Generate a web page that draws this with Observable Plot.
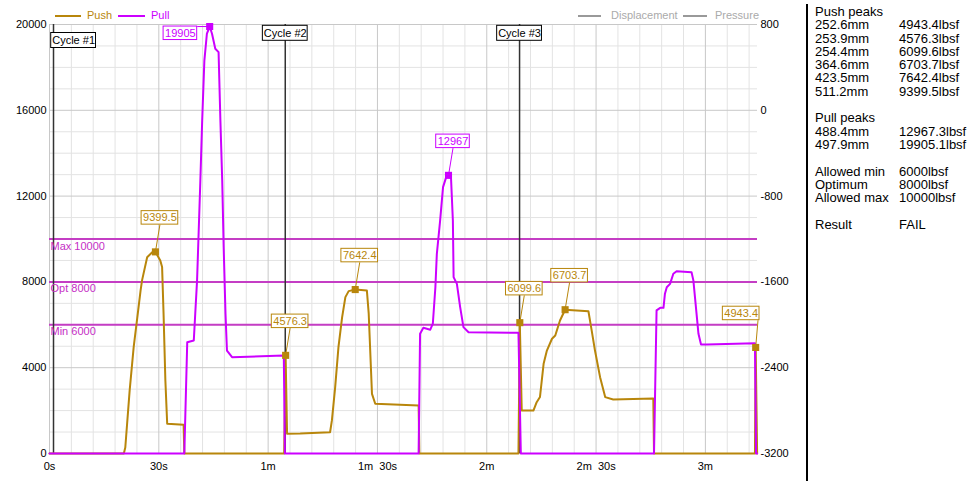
<!DOCTYPE html>
<html><head><meta charset="utf-8">
<script src="https://cdn.jsdelivr.net/npm/d3@7"></script>
<script src="https://cdn.jsdelivr.net/npm/@observablehq/plot@0.6"></script>
<style>
body{margin:0;background:#fff;font-family:'Liberation Sans',Arial,sans-serif;}
#wrap{position:relative;width:974px;height:485px;overflow:hidden;background:#fff;}
#legend{position:absolute;left:0;top:0;width:800px;height:24px;z-index:2;}
#chart{position:absolute;left:0;top:18px;z-index:1;}
#chart svg text{white-space:pre;}
.lg{position:absolute;top:9px;font-size:11px;line-height:13px;white-space:nowrap;}
.sw{position:absolute;top:15px;height:2px;}
#panel{position:absolute;left:815px;top:5px;font-size:13px;color:#000;}
.row{height:13.3px;line-height:13.3px;white-space:nowrap;position:relative;width:150px;}
.c2{position:absolute;left:84px;top:0;}
#sep{position:absolute;left:806px;top:4px;width:2px;height:477px;background:#000;}
</style></head><body>
<div id="wrap">
  <div id="chart"></div>
  <div id="legend"></div>
  <div id="sep"></div>
  <div id="panel"></div>
</div>
<script>
// ---------- data ----------
const seriesNames = ["Push", "Pull"];
const hiddenSeries = ["Displacement", "Pressure"];

const pushT = [0, 20.4, 20.8, 22.0, 23.1, 24.1, 25.0, 25.4, 26.8, 28.2, 29.07, 30.4, 30.9, 31.3, 31.8, 32.3, 36.8, 37.0, 64.4, 64.8, 65.2, 68.8, 77.0, 77.5, 78.4, 79.3, 80.3, 81.2, 82.1, 83.9, 87.1, 87.6, 88.5, 89.4, 101.3, 101.5, 128.7, 129.07, 129.6, 132.8, 133.7, 134.6, 135.6, 136.5, 137.9, 138.8, 140.1, 141.5, 147.9, 148.8, 149.7, 151.1, 152.5, 154.7, 165.7, 165.9, 193.6, 193.8, 194.2];
const pushV = [0, 0, 280, 2940, 4960, 6350, 7600, 8070, 9150, 9385, 9399.5, 9000, 8690, 6530, 3400, 1390, 1340, 0, 0, 4576.3, 920, 930, 990, 1540, 3090, 4960, 6350, 7290, 7570, 7642.4, 7600, 6530, 2780, 2320, 2240, 0, 0, 6099.6, 2000, 2000, 2390, 2630, 4180, 4800, 5350, 5500, 6200, 6703.7, 6630, 5730, 4800, 3560, 2630, 2520, 2560, 0, 0, 4943.4, 0];

const pullT = [0, 37.0, 37.8, 39.6, 40.0, 40.5, 41.4, 41.9, 42.5, 43.2, 43.96, 44.6, 45.5, 46.4, 46.9, 47.4, 47.8, 48.3, 48.7, 50.1, 64.3, 64.6, 101.3, 101.7, 102.6, 104.5, 105.2, 105.9, 106.3, 107.2, 108.0, 108.8, 109.5, 110.2, 110.7, 110.9, 111.8, 112.7, 113.6, 115.0, 128.7, 129.35, 165.9, 166.6, 167.6, 168.5, 168.9, 169.4, 170.3, 171.2, 172.1, 176.2, 176.7, 178.1, 178.8, 180.4, 193.6, 193.9, 194.2];
const pullV = [0, 0, 5190, 5270, 6530, 8070, 12730, 15520, 18320, 19580, 19905.1, 19570, 18870, 18710, 15520, 12730, 9620, 6510, 4800, 4490, 4570, 0, 0, 5580, 5860, 5770, 6050, 7750, 9310, 10860, 12420, 12850, 12967.3, 12810, 10860, 8220, 7910, 6820, 5890, 5650, 5630, 0, 0, 6670, 6790, 6790, 7450, 7750, 7910, 8380, 8500, 8450, 8070, 5580, 5080, 5080, 5140, 0, 0];

const pushPeakMm = [252.6, 253.9, 254.4, 364.6, 423.5, 511.2];
const pushPeakLbsf = [4943.4, 4576.3, 6099.6, 6703.7, 7642.4, 9399.5];
const pullPeakMm = [488.4, 497.9];
const pullPeakLbsf = [12967.3, 19905.1];

const thresholdNames = ["Min", "Opt", "Max"];
const thresholdValues = [6000, 8000, 10000];
const limitLabels = ["Allowed min", "Optimum", "Allowed max"];
const resultText = "FAIL";

const cycleNames = ["Cycle #1", "Cycle #2", "Cycle #3"];
const cycleT = [1.1, 64.7, 129.0];

const xDomain = [0, 194.3];
const xTickValues = [0, 30, 60, 90, 120, 150, 180];
const xTickLabels = ["0s", "30s", "1m", "1m  30s", "2m", "2m  30s", "3m"];
const yDomain = [0, 20000];
const yTickValues = [0, 4000, 8000, 12000, 16000, 20000];
const rightTickLabels = [-3200, -2400, -1600, -800, 0, 800];

// ---------- styles ----------
const pushColor = "#b8860b";
const pullColor = "#cc00ff";
const limitColor = "#c43dc4";
const limitText = "#c52ec5";
const W = 800, H = 467, ML = 49, MR = 43, MT = 6, MB = 32;

// ---------- legend ----------
const legend = document.getElementById("legend");
const legendItems = [
  {name: seriesNames[0], color: pushColor, text: pushColor, sw: 55, sww: 26, tx: 87},
  {name: seriesNames[1], color: pullColor, text: pullColor, sw: 118, sww: 27, tx: 151},
  {name: hiddenSeries[0], color: "#999", text: "#aaa", sw: 578, sww: 23, tx: 611},
  {name: hiddenSeries[1], color: "#999", text: "#aaa", sw: 683, sww: 24, tx: 715}
];
legendItems.forEach(it => {
  const s = document.createElement("div");
  s.className = "sw"; s.style.left = it.sw + "px"; s.style.width = it.sww + "px"; s.style.background = it.color;
  legend.appendChild(s);
  const t = document.createElement("div");
  t.className = "lg"; t.style.left = it.tx + "px"; t.style.color = it.text; t.textContent = it.name;
  legend.appendChild(t);
});

// ---------- panel ----------
const rows = [["Push peaks", ""]];
pushPeakMm.forEach((m, i) => rows.push([m.toFixed(1) + "mm", pushPeakLbsf[i].toFixed(1) + "lbsf"]));
rows.push(["", ""]);
rows.push(["Pull peaks", ""]);
pullPeakMm.forEach((m, i) => rows.push([m.toFixed(1) + "mm", pullPeakLbsf[i].toFixed(1) + "lbsf"]));
rows.push(["", ""]);
limitLabels.forEach((l, i) => rows.push([l, thresholdValues[i] + "lbsf"]));
rows.push(["", ""]);
rows.push(["Result", resultText]);
const panel = document.getElementById("panel");
rows.forEach(r => {
  const d = document.createElement("div"); d.className = "row";
  const a = document.createElement("span"); a.textContent = r[0]; d.appendChild(a);
  const b = document.createElement("span"); b.className = "c2"; b.textContent = r[1]; d.appendChild(b);
  panel.appendChild(d);
});

// ---------- chart ----------
const push = pushT.map((t, i) => ({t, v: pushV[i]}));
const pull = pullT.map((t, i) => ({t, v: pullV[i]}));
const thresholds = thresholdValues.map((v, i) => ({v, label: thresholdNames[i] + " " + v}));

const sx = Plot.scale({x: {domain: xDomain, range: [ML, W - MR]}});
const sy = Plot.scale({y: {domain: yDomain, range: [H - MB, MT]}});
const ctx = document.createElement("canvas").getContext("2d");
ctx.font = "11px 'Liberation Sans', Arial, sans-serif";
const tw = s => ctx.measureText(s).width;

function peakAnnotations(T, V, peaks, fmt) {
  return peaks.map(v => {
    const i = V.indexOf(v);
    const p = {t: T[i], v, label: fmt(v)};
    const px = sx.apply(p.t), py = sy.apply(p.v);
    const w = tw(p.label) + 3, h = 13.5;
    let cx = px + 4.5, cy = py - 34, ex, ey;
    if (cy - h / 2 < MT) {
      cx = px - 12.5 - w / 2; cy = py + h / 2; ex = cx + w / 2; ey = py;
    } else {
      cx = Math.min(cx, W - MR + 2 - w / 2);
      ex = Math.min(px + 4.5, cx + w / 2 - 1.5); ey = cy + h / 2;
    }
    return Object.assign(p, {
      lx: sx.invert(cx), ly: sy.invert(cy),
      bx1: sx.invert(cx - w / 2), bx2: sx.invert(cx + w / 2),
      by1: sy.invert(cy + h / 2), by2: sy.invert(cy - h / 2),
      ex: sx.invert(ex), ey: sy.invert(ey)
    });
  });
}
const pushAnn = peakAnnotations(pushT, pushV, pushPeakLbsf, v => v.toFixed(1));
const pullAnn = peakAnnotations(pullT, pullV, pullPeakLbsf, v => String(Math.round(v)));

const cycles = cycleT.map((t, i) => {
  const name = cycleNames[i];
  const px = sx.apply(t), w = tw(name) + 2, h = 15;
  let cx = px, cy = MT + 8.8;
  if (cx - w / 2 < ML) { cx = px - 2.3 + w / 2; cy = MT + 16; }
  return {t, name, lx: sx.invert(cx), ly: sy.invert(cy),
    bx1: sx.invert(cx - w / 2), bx2: sx.invert(cx + w / 2),
    by1: sy.invert(cy + h / 2), by2: sy.invert(cy - h / 2)};
});

const minorX = d3.range(0, xDomain[1], 6).filter(d => d % 30 !== 0);
const minorY = d3.range(0, 20001, 1000).filter(d => d % 4000 !== 0);

const boxMarks = (ann, color) => [
  Plot.link(ann, {x1: "t", y1: "v", x2: "ex", y2: "ey", stroke: color, strokeWidth: 1}),
  Plot.dot(ann, {x: "t", y: "v", symbol: "square", r: 4, fill: color}),
  Plot.rect(ann, {x1: "bx1", x2: "bx2", y1: "by1", y2: "by2", fill: "white", stroke: color, strokeWidth: 1}),
  Plot.text(ann, {x: "lx", y: "ly", text: "label", fill: color, fontSize: 11})
];

const chart = Plot.plot({
  width: W, height: H,
  marginLeft: ML, marginRight: MR, marginTop: MT, marginBottom: MB,
  style: {fontFamily: "'Liberation Sans', Arial, sans-serif", fontSize: "11px", background: "transparent", color: "black", overflow: "visible"},
  x: {domain: xDomain, label: null},
  y: {domain: yDomain, label: null},
  marks: [
    Plot.ruleX(minorX, {stroke: "#e3e3e3"}),
    Plot.ruleY(minorY, {stroke: "#e3e3e3"}),
    Plot.ruleX(xTickValues, {stroke: "#c8c8c8"}),
    Plot.ruleY(yTickValues, {stroke: "#c8c8c8"}),
    Plot.axisX({ticks: xTickValues, tickFormat: d => xTickLabels[xTickValues.indexOf(d)], tickSize: 0, tickPadding: 9, label: null}),
    Plot.axisY({anchor: "left", ticks: yTickValues, tickSize: 0, tickPadding: 3, tickFormat: d => String(d), label: null}),
    Plot.axisY({anchor: "right", ticks: yTickValues, tickSize: 0, tickPadding: 3, tickFormat: d => String(rightTickLabels[yTickValues.indexOf(d)]), label: null}),
    Plot.ruleY(thresholds, {y: "v", stroke: limitColor, strokeWidth: 2}),
    Plot.ruleX(cycles, {x: "t", stroke: "#333", strokeWidth: 1.5}),
    Plot.line(push, {x: "t", y: "v", stroke: pushColor, strokeWidth: 2}),
    Plot.line(pull, {x: "t", y: "v", stroke: pullColor, strokeWidth: 2}),
    Plot.text(thresholds, {frameAnchor: "left", y: "v", text: "label", textAnchor: "start", dx: 1, dy: 7, fill: limitText, fontSize: 11}),
    ...boxMarks(pushAnn, pushColor),
    ...boxMarks(pullAnn, pullColor),
    Plot.rect(cycles, {x1: "bx1", x2: "bx2", y1: "by1", y2: "by2", fill: "white", stroke: "#000", strokeWidth: 1}),
    Plot.text(cycles, {x: "lx", y: "ly", text: "name", fill: "#000", fontSize: 11})
  ]
});
document.getElementById("chart").appendChild(chart);
</script>
</body></html>
